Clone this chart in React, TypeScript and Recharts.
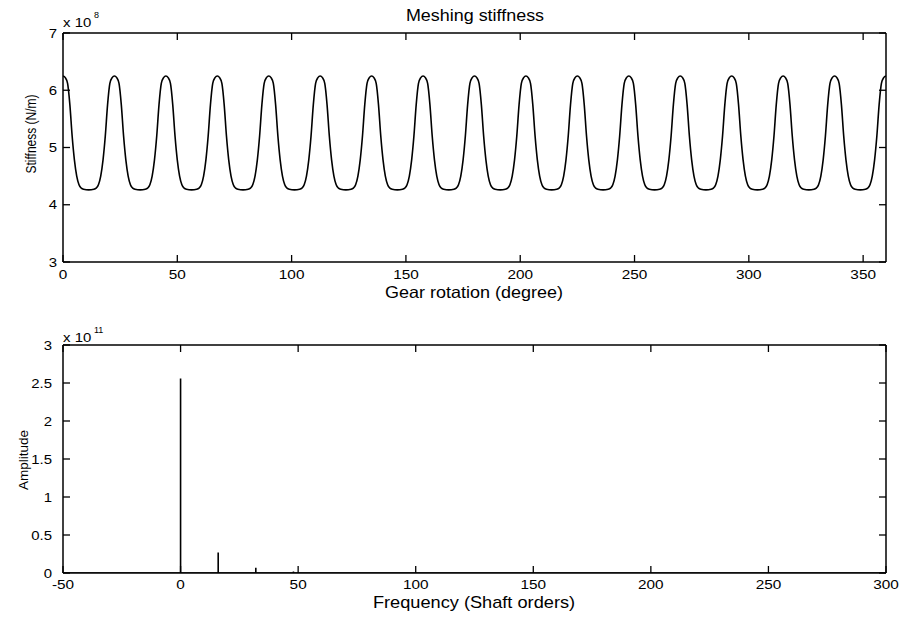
import React from 'react';
import { LineChart, Line, XAxis, YAxis } from 'recharts';

// angle of each tooth-pair peak over one shaft turn (degree)
const toothPeaks = [0, 22.5, 45, 67.5, 90, 112.5, 135, 157.5, 180, 202.5, 225, 247.5, 270, 292.5, 315, 337.5];
// one mesh period, peak -> valley -> next peak (x 1e8 N/m)
const toothOffsetDeg = [0, 1, 2, 3, 4, 5, 6, 7, 8, 9, 11.25, 13.5, 14.5, 15.5, 16.5, 17.5, 18.5, 19.5, 20.5, 21.5];
const toothStiffness = [6.25, 6.22, 6.12, 5.75, 5.2, 4.78, 4.5, 4.35, 4.29, 4.27, 4.26, 4.27, 4.29, 4.35, 4.5, 4.78, 5.2, 5.75, 6.12, 6.22];
const endAngle = 360;
const endStiffness = 6.25;

const degTicks = [0, 50, 100, 150, 200, 250, 300, 350];
const stiffTicks = [3, 4, 5, 6, 7];

// spectrum lines (shaft orders, x 1e11)
const harmonicOrders = [0, 16, 32, 48];
const harmonicAmps = [2.56, 0.27, 0.07, 0.02];
const freqTicks = [-50, 0, 50, 100, 150, 200, 250, 300];
const ampTicks = [0, 0.5, 1, 1.5, 2, 2.5, 3];

const stiffnessData = [
  ...toothPeaks.flatMap(p => toothOffsetDeg.map((d, i) => ({ deg: p + d, k: toothStiffness[i] }))),
  { deg: endAngle, k: endStiffness }
];

const spectrumData = [
  { f: -50, a: 0 },
  ...harmonicOrders.flatMap((h, i) => [
    { f: h, a: 0 },
    { f: h, a: harmonicAmps[i] },
    { f: h, a: 0 }
  ]),
  { f: 300, a: 0 }
];

const FONT = '"Liberation Sans", Arial, Helvetica, sans-serif';
const TICK = 7;

const XTick = (p: any) => (
  <g transform={`translate(${p.x},${p.y}) scale(1.18,1)`}>
    <text textAnchor="middle" dy="0.71em" fontSize={13} fontFamily={FONT} fill="#000">
      {p.payload.value}
    </text>
  </g>
);

const YTick = (p: any) => (
  <g transform={`translate(${p.x},${p.y}) scale(1.15,1)`}>
    <text textAnchor="end" dy="0.36em" fontSize={13} fontFamily={FONT} fill="#000">
      {p.payload.value}
    </text>
  </g>
);

// tick marks only, no label
const NoLabel = () => <g />;

const axisLine = { stroke: '#000', strokeWidth: 1.5 };
const tickLine = { stroke: '#000', strokeWidth: 1.3 };

const Txt = ({ x, y, size, children, sx = 1, rotate = false }: any) => (
  <div
    style={{
      position: 'absolute',
      left: x,
      top: y,
      fontSize: size,
      lineHeight: 1,
      whiteSpace: 'nowrap',
      transform: rotate
        ? `translate(-50%,-50%) rotate(-90deg) scaleY(${sx})`
        : `translate(-50%,-50%) scaleX(${sx})`
    }}
  >
    {children}
  </div>
);

const Exponent = ({ x, y, exp }: any) => (
  <>
    <div style={{ position: 'absolute', left: x, top: y, fontSize: 13, lineHeight: 1, transform: 'scaleX(1.15)', transformOrigin: 'left' }}>
      x 10
    </div>
    <div style={{ position: 'absolute', left: x + 31, top: y - 5, fontSize: 9, lineHeight: 1 }}>{exp}</div>
  </>
);

// MATLAB-like box: labelled axes outside, inward tick marks on all four sides
const boxAxes = (key: string, xDomain: number[], xTicks: number[], yDomain: number[], yTicks: number[], xMargin: number, yMargin: number) => [
  <XAxis key="xb" xAxisId="b" type="number" dataKey={key} domain={xDomain} ticks={xTicks} interval={0}
    height={30} tickSize={0} tickMargin={xMargin} tick={XTick} axisLine={axisLine} tickLine={false} allowDataOverflow />,
  <XAxis key="xbm" xAxisId="bm" mirror type="number" dataKey={key} domain={xDomain} ticks={xTicks} interval={0}
    height={1} tickSize={TICK} tick={NoLabel} axisLine={false} tickLine={tickLine} allowDataOverflow />,
  <XAxis key="xt" xAxisId="t" orientation="top" mirror type="number" dataKey={key} domain={xDomain} ticks={xTicks} interval={0}
    height={1} tickSize={TICK} tick={NoLabel} axisLine={axisLine} tickLine={tickLine} allowDataOverflow />,
  <YAxis key="yl" yAxisId="l" type="number" domain={yDomain} ticks={yTicks} interval={0}
    width={63} tickSize={0} tickMargin={yMargin} tick={YTick} axisLine={axisLine} tickLine={false} allowDataOverflow />,
  <YAxis key="ylm" yAxisId="lm" mirror type="number" domain={yDomain} ticks={yTicks} interval={0}
    width={1} tickSize={TICK} tick={NoLabel} axisLine={false} tickLine={tickLine} allowDataOverflow />,
  <YAxis key="yr" yAxisId="r" orientation="right" mirror type="number" domain={yDomain} ticks={yTicks} interval={0}
    width={1} tickSize={TICK} tick={NoLabel} axisLine={axisLine} tickLine={tickLine} allowDataOverflow />
];

// invisible series so the extra tick-mark axes have something bound to them
const ghost = (key: string) => [
  <Line key="g1" xAxisId="bm" yAxisId="lm" dataKey={key} stroke="transparent" dot={false} activeDot={false} isAnimationActive={false} />,
  <Line key="g2" xAxisId="t" yAxisId="r" dataKey={key} stroke="transparent" dot={false} activeDot={false} isAnimationActive={false} />
];

export default function App() {
  return (
    <div style={{ position: 'absolute', left: 0, top: 0, width: 904, height: 617, background: '#fff', fontFamily: FONT, color: '#000' }}>
      <div style={{ position: 'absolute', left: 0, top: 0 }}>
        <LineChart width={904} height={310} data={stiffnessData} margin={{ top: 33, right: 18, bottom: 18, left: 0 }}>
          {boxAxes('deg', [0, 360], degTicks, [3, 7], stiffTicks, 8, 6)}
          {ghost('k')}
          <Line xAxisId="b" yAxisId="l" type="monotone" dataKey="k" stroke="#000" strokeWidth={1.6} dot={false} isAnimationActive={false} />
        </LineChart>
      </div>

      <div style={{ position: 'absolute', left: 0, top: 310 }}>
        <LineChart width={904} height={307} data={spectrumData} margin={{ top: 35, right: 18, bottom: 14, left: 0 }}>
          {boxAxes('f', [-50, 300], freqTicks, [0, 3], ampTicks, 7, 11)}
          {ghost('a')}
          <Line xAxisId="b" yAxisId="l" type="linear" dataKey="a" stroke="#000" strokeWidth={1.6} dot={false} isAnimationActive={false} />
        </LineChart>
      </div>

      <Txt x={475} y={16} size={16} sx={1.12}>Meshing stiffness</Txt>
      <Exponent x={63} y={16} exp="8" />
      <Txt x={31} y={134} size={12} sx={1.15} rotate>Stiffness (N/m)</Txt>
      <Txt x={474} y={292} size={16.5} sx={1.09}>Gear rotation (degree)</Txt>

      <Exponent x={63} y={331} exp="11" />
      <Txt x={24} y={460} size={13.5} rotate>Amplitude</Txt>
      <Txt x={474} y={602} size={17} sx={1.07}>Frequency (Shaft orders)</Txt>
    </div>
  );
}
